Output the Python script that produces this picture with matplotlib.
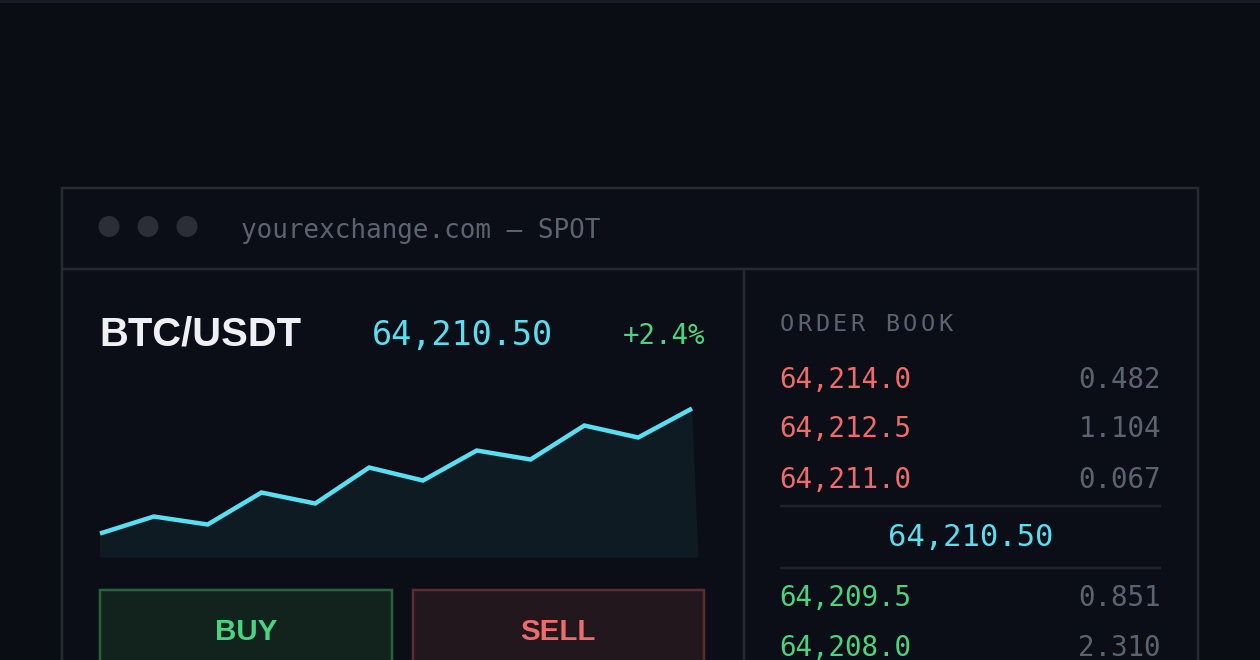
import matplotlib
matplotlib.use("Agg")
import matplotlib.pyplot as plt
from matplotlib.patches import Rectangle, Circle

# ---------------- data ----------------
pair = "BTC/USDT"
last_price = "64,210.50"
change_pct = "+2.4%"
url_text = "yourexchange.com — SPOT"
book_title = "ORDER BOOK"
ask_prices = ["64,214.0", "64,212.5", "64,211.0"]
ask_sizes = ["0.482", "1.104", "0.067"]
bid_prices = ["64,209.5", "64,208.0"]
bid_sizes = ["0.851", "2.310"]
spark_values = [24, 41, 33, 65, 54, 90, 77, 107, 98, 132, 120, 149]
buttons = ["BUY", "SELL"]

# ---------------- style ----------------
BG = "#0a0d14"
WIN = "#0b0e16"
BORDER = "#262a32"
CYAN = "#58dff2"
GREEN = "#4ad47f"
RED = "#f06b6b"
GREY = "#5c6370"
WHITE = "#eef0f3"
MONO = ["DejaVu Sans Mono"]
SANS = ["Liberation Sans", "DejaVu Sans"]

W, H = 1260, 660
fig = plt.figure(figsize=(W / 100, H / 100), dpi=100, facecolor=BG)
ax = fig.add_axes([0, 0, 1, 1])
ax.set_xlim(0, W)
ax.set_ylim(H, 0)
ax.axis("off")
ax.set_facecolor(BG)

px = 0.72  # points per pixel

# top strip
ax.add_patch(Rectangle((0, 0), W, 3, facecolor="#161b25", edgecolor="none"))

# window
ax.add_patch(Rectangle((62, 188), 1136, 520, facecolor=WIN, edgecolor=BORDER,
                       linewidth=2.5 * px))
ax.plot([62, 1198], [268.5, 268.5], color=BORDER, lw=2.5 * px, solid_capstyle="butt")
ax.plot([743.5, 743.5], [268.5, H + 5], color=BORDER, lw=2.5 * px, solid_capstyle="butt")

# window dots
for cx in (109, 148, 187):
    ax.add_patch(Circle((cx, 226.5), 10.5, facecolor="#2b2e36", edgecolor="none"))

ax.text(241, 238, url_text, family=MONO, fontsize=26 * px, color=GREY, va="baseline", ha="left")

# header
ax.text(99, 346, pair, family=SANS, fontsize=40 * px, fontweight="bold", color=WHITE,
        va="baseline", ha="left")
ax.text(372, 345, last_price, family=MONO, fontsize=33.5 * px, color=CYAN,
        va="baseline", ha="left")
ax.text(705, 344, change_pct, family=MONO, fontsize=27.5 * px, color=GREEN,
        va="baseline", ha="right")

# sparkline axes
left, right, bottom, top = 100, 698.5, 557.5, 400
sax = fig.add_axes([left / W, (H - bottom) / H, (right - left) / W, (bottom - top) / H])
sax.axis("off")
step = (692 - 100) / (len(spark_values) - 1)
xmax = (right - left) / step
sax.set_xlim(0, xmax)
sax.set_ylim(0, bottom - top)
xs = list(range(len(spark_values)))
sax.fill(xs + [xmax, 0], spark_values + [0, 0], color="#0f1b23", linewidth=0)
sax.plot(xs, spark_values, color=CYAN, lw=3.2, solid_joinstyle="miter",
         solid_capstyle="butt", clip_on=False)

# buttons
ax.add_patch(Rectangle((100, 589.5), 291.5, 100, facecolor="#12231d", edgecolor="#27623e",
                       linewidth=2.5 * px))
ax.add_patch(Rectangle((412.5, 589.5), 291.5, 100, facecolor="#22171c", edgecolor="#5b2c31",
                       linewidth=2.5 * px))
ax.text(246, 639.5, buttons[0], family=SANS, fontsize=29.5 * px, fontweight="bold", color=GREEN,
        ha="center", va="baseline")
ax.text(558, 639.5, buttons[1], family=SANS, fontsize=29.5 * px, fontweight="bold", color=RED,
        ha="center", va="baseline")

# order book title with letter tracking (monospace grid)
adv = 17.6
for i, ch in enumerate(book_title):
    ax.text(780 + i * adv + 0.5 * 13.5, 331, ch, family=MONO, fontsize=23.5 * px, color=GREY,
            va="baseline", ha="center")

ask_base = [387.5, 437, 488.5]
for y, p, s in zip(ask_base, ask_prices, ask_sizes):
    ax.text(779, y, p, family=MONO, fontsize=27.5 * px, color=RED, va="baseline", ha="left")
    ax.text(1161, y, s, family=MONO, fontsize=27.5 * px, color=GREY, va="baseline", ha="right")

ax.plot([780, 1161], [506, 506], color="#1f242c", lw=2.5 * px, solid_capstyle="butt")
ax.text(970.5, 546.5, last_price, family=MONO, fontsize=30.5 * px, color=CYAN,
        va="baseline", ha="center")
ax.plot([780, 1161], [568, 568], color="#1f242c", lw=2.5 * px, solid_capstyle="butt")

bid_base = [605.5, 656]
for y, p, s in zip(bid_base, bid_prices, bid_sizes):
    ax.text(779, y, p, family=MONO, fontsize=27.5 * px, color=GREEN, va="baseline", ha="left")
    ax.text(1161, y, s, family=MONO, fontsize=27.5 * px, color=GREY, va="baseline", ha="right")

fig.savefig("out.png", dpi=100, facecolor=BG)
